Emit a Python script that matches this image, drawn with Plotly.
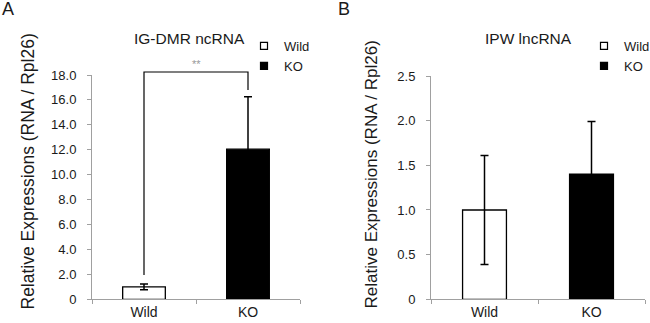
import plotly.graph_objects as go

# ---- data ----
categories = ["Wild", "KO"]
a_values = [1.0, 12.05]
a_errors = [0.23, 4.2]
b_values = [1.0, 1.4]
b_errors = [0.61, 0.59]
a_tickvals = [0, 2, 4, 6, 8, 10, 12, 14, 16, 18]
a_ticktext = ["0", "2.0", "4.0", "6.0", "8.0", "10.0", "12.0", "14.0", "16.0", "18.0"]
b_tickvals = [0, 0.5, 1.0, 1.5, 2.0, 2.5]
b_ticktext = ["0", "0.5", "1.0", "1.5", "2.0", "2.5"]
bracket_x = ["Wild", "Wild", "KO", "KO"]
bracket_y = [1.95, 18.24, 18.24, 16.8]
a_range = [0, 18]
b_range = [0, 2.5]

W, H = 650, 323
FONT = "Arial, Liberation Sans, sans-serif"
TXT = "#1a1a1a"
AXC = "#a0a0a0"


def px(x):
    return x / W


def py(y):
    return (H - y) / H


yd = [py(299.3), py(75)]
yd_b = [py(299.3), py(76)]
y3_top = py(40)
y3_range = [0, a_range[1] * (y3_top - yd[0]) / (yd[1] - yd[0])]

fig = go.Figure()

bar_colors = ["white", "black"]

fig.add_trace(go.Bar(
    x=categories, y=a_values, width=0.41,
    marker=dict(color=bar_colors, line=dict(color="black", width=1.3)),
    error_y=dict(type="data", array=a_errors, color="black", thickness=1.5, width=4),
    xaxis="x", yaxis="y", showlegend=False,
))
fig.add_trace(go.Bar(
    x=categories, y=b_values, width=0.41,
    marker=dict(color=bar_colors, line=dict(color="black", width=1.3)),
    error_y=dict(type="data", array=b_errors, color="black", thickness=1.5, width=4),
    xaxis="x2", yaxis="y2", showlegend=False,
))
# significance bracket
fig.add_trace(go.Scatter(
    x=bracket_x, y=bracket_y, mode="lines",
    line=dict(color="black", width=1.2),
    xaxis="x", yaxis="y3", showlegend=False, hoverinfo="skip",
))

# legend entries
for lg, xa, ya in [("legend", "x", "y"), ("legend2", "x2", "y2")]:
    for name, col in zip(categories, bar_colors):
        fig.add_trace(go.Scatter(
            x=[None], y=[None], mode="markers", name=name,
            marker=dict(symbol="square", size=7, color=col, line=dict(color="black", width=1.2)),
            xaxis=xa, yaxis=ya, legend=lg,
        ))

xaxis_common = dict(
    type="category", showline=True, linecolor=AXC, linewidth=1,
    ticks="outside", tickson="boundaries", ticklen=4, tickcolor=AXC,
    showgrid=False, zeroline=False, tickfont=dict(size=14, color=TXT, family=FONT),
    range=[-0.5, 1.5], fixedrange=True, automargin=False,
)
yaxis_common = dict(
    showline=True, linecolor=AXC, linewidth=1, ticks="outside", ticklen=4,
    tickcolor=AXC, showgrid=False, zeroline=False,
    tickfont=dict(size=13, color=TXT, family=FONT), tickmode="array",
    ticklabelstandoff=8, fixedrange=True, automargin=False,
)

legend_common = dict(
    xanchor="left", yanchor="top", font=dict(size=13, color=TXT, family=FONT),
    bgcolor="rgba(0,0,0,0)", borderwidth=0, tracegroupgap=0, itemclick=False,
)

fig.update_layout(
    template="none",
    width=W, height=H, margin=dict(l=0, r=0, t=0, b=0, pad=0, autoexpand=False),
    paper_bgcolor="white", plot_bgcolor="rgba(0,0,0,0)",
    font=dict(family=FONT, color=TXT),
    bargap=0.59, hovermode=False,
    xaxis=dict(domain=[px(92), px(300)], anchor="y", **xaxis_common),
    yaxis=dict(domain=yd, anchor="x", range=a_range, tickvals=a_tickvals,
               ticktext=a_ticktext, **yaxis_common),
    xaxis2=dict(domain=[px(431), px(645)], anchor="y2", **xaxis_common),
    yaxis2=dict(domain=yd_b, anchor="x2", range=b_range, tickvals=b_tickvals,
                ticktext=b_ticktext, **yaxis_common),
    yaxis3=dict(domain=[yd[0], y3_top], anchor="x", range=y3_range, visible=False,
                fixedrange=True, automargin=False),
    legend=dict(x=px(244), y=py(31), **legend_common),
    legend2=dict(x=px(584), y=py(31), **legend_common),
    showlegend=True,
)

ann = [
    dict(text="A", x=px(0), y=py(9), xanchor="left", yanchor="middle", font=dict(size=18)),
    dict(text="B", x=px(336), y=py(9), xanchor="left", yanchor="middle", font=dict(size=18)),
    dict(text="IG-DMR ncRNA", x=px(189.5), y=py(38), xanchor="center", yanchor="middle",
         font=dict(size=15.5)),
    dict(text="IPW lncRNA", x=px(528.5), y=py(39), xanchor="center", yanchor="middle",
         font=dict(size=15.5)),
    dict(text="Relative Expressions (RNA / Rpl26)", x=px(27), y=py(171.5), textangle=-90,
         xanchor="center", yanchor="middle", font=dict(size=17.5)),
    dict(text="Relative Expressions (RNA / Rpl26)", x=px(371), y=py(174.5), textangle=-90,
         xanchor="center", yanchor="middle", font=dict(size=17)),
]
for a in ann:
    a.update(xref="paper", yref="paper", showarrow=False)
    fig.add_annotation(**a)

fig.add_annotation(text="**", x=0.5, y=18.24, xref="x", yref="y3", yanchor="bottom",
                   xanchor="center", showarrow=False, yshift=0,
                   font=dict(size=11, color="#999999"))

# remove the default page margin so the figure sits at the window's top-left corner
fig.write_html("out.html", config={"displayModeBar": False},
               post_script="document.body.style.margin='0';")
